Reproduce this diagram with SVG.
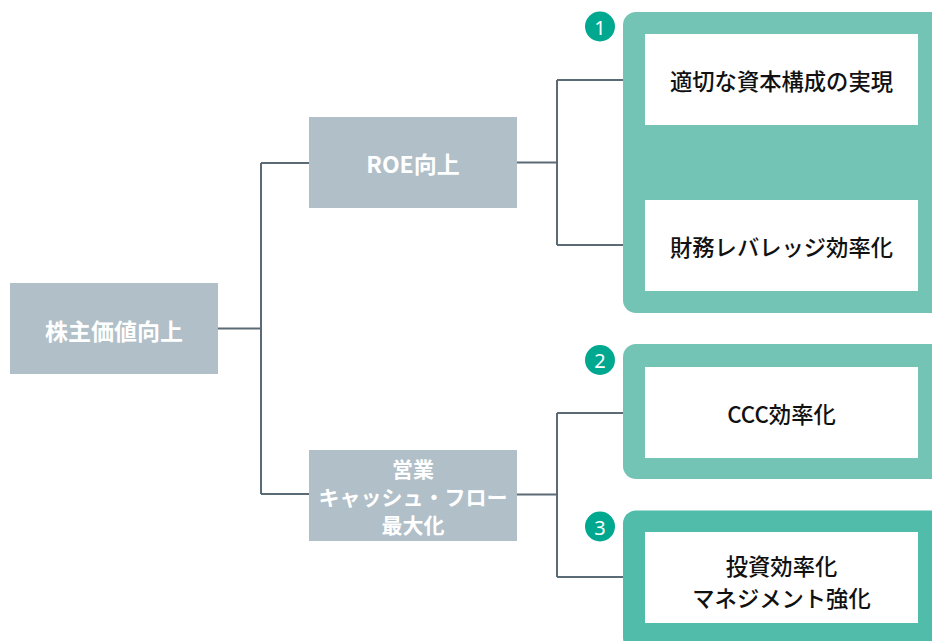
<svg xmlns="http://www.w3.org/2000/svg" width="932" height="641" viewBox="0 0 932 641">
<style>
.gray{fill:#b1bfc8}
.panelA{fill:#74c4b6}
.panelB{fill:#52bcaa}
.white{fill:#ffffff}
.badge{fill:#00a88f}
.conn{fill:none;stroke:#5b6b75;stroke-width:2}
.t{font-family:"Noto Sans CJK JP","Noto Sans",sans-serif;text-anchor:middle;dominant-baseline:central}
.tw{fill:#ffffff;font-weight:700;font-size:23px}
.tw2{fill:#ffffff;font-weight:700;font-size:21px}
.tb{fill:#111111;font-weight:500;font-size:22.3px}
.num{font-family:"Noto Sans","Liberation Sans",sans-serif;font-size:20px;fill:#ffffff;text-anchor:middle;dominant-baseline:central}
</style>
<rect width="932" height="641" fill="#ffffff"/>
<g id="connectors">
<path class="conn" d="M218 328.5H261M261 163V494M261 163H309M261 494H309"/>
<path class="conn" d="M517 162.5H557M557 80V245M557 80H645M557 245H645"/>
<path class="conn" d="M517 494.5H557M557 413V577M557 413H645M557 577H645"/>
</g>
<g id="group1">
<rect class="panelA" x="623" y="12" width="330" height="301" rx="13"/>
<circle class="badge" cx="600" cy="26.5" r="15"/>
<text class="num" x="600" y="27">1</text>
</g>
<g id="group2">
<rect class="panelA" x="623" y="344" width="330" height="135" rx="13"/>
<circle class="badge" cx="600" cy="360" r="15"/>
<text class="num" x="600" y="360.5">2</text>
</g>
<g id="group3">
<rect class="panelB" x="623" y="510.5" width="330" height="140" rx="13"/>
<circle class="badge" cx="600" cy="526.5" r="15"/>
<text class="num" x="600" y="527">3</text>
</g>
<g id="root">
<rect class="gray" x="10" y="283" width="208" height="91"/>
<text class="t tw" x="114" y="329.5">株主価値向上</text>
</g>
<g id="roe">
<rect class="gray" x="309" y="117" width="208" height="91"/>
<text class="t tw" x="413" y="163">ROE向上</text>
</g>
<g id="cashflow">
<rect class="gray" x="309" y="450" width="208" height="91"/>
<text class="t tw2" x="413" y="468">営業</text>
<text class="t tw2" x="413" y="496">キャッシュ・フロー</text>
<text class="t tw2" x="413" y="524">最大化</text>
</g>
<g id="capital">
<rect class="white" x="645" y="34" width="273" height="91"/>
<text class="t tb" x="781.5" y="80">適切な資本構成の実現</text>
</g>
<g id="leverage">
<rect class="white" x="645" y="200" width="273" height="91"/>
<text class="t tb" x="781.5" y="246">財務レバレッジ効率化</text>
</g>
<g id="ccc">
<rect class="white" x="645" y="367" width="273" height="91"/>
<text class="t tb" x="781.5" y="413">CCC効率化</text>
</g>
<g id="invest">
<rect class="white" x="645" y="532" width="273" height="91"/>
<text class="t tb" x="781.5" y="565">投資効率化</text>
<text class="t tb" x="781.5" y="597">マネジメント強化</text>
</g>
</svg>
